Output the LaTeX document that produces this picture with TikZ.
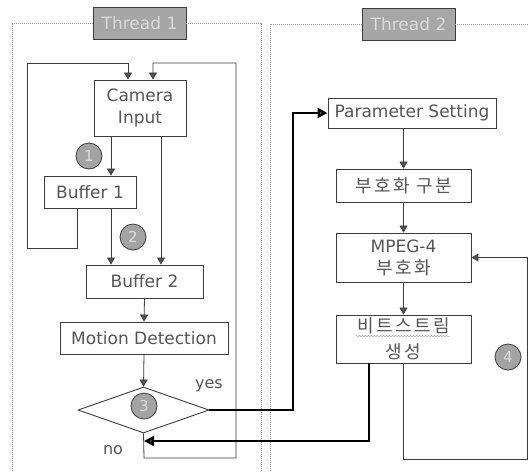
\documentclass[tikz,border=0pt]{standalone}
\usepackage{fontspec}
\setmainfont{DejaVu Sans}
\newfontfamily\krfont{Noto Sans CJK KR}[LetterSpace=14]
\usetikzlibrary{arrows.meta, shapes.geometric, decorations.pathmorphing}
\definecolor{boxborder}{HTML}{3C3C3C}
\definecolor{boxtext}{HTML}{555555}
\definecolor{framegray}{HTML}{9A9A9A}
\definecolor{titlefill}{HTML}{A6A6A6}
\definecolor{titletext}{HTML}{DADADA}
\definecolor{tipfill}{HTML}{555555}
\definecolor{markfill}{HTML}{A3A3A3}
\tikzset{
  card/.style={
    rectangle,
    draw=boxborder,
    fill=white,
    line width=0.9pt,
    align=center,
    inner sep=0pt,
    text=boxtext,
    font=\fontsize{17}{22}\selectfont
  },
  krcard/.style={card, font=\krfont\fontsize{18}{26}\selectfont},
  headbox/.style={rectangle, draw=boxborder, fill=titlefill, line width=0.9pt, inner sep=0pt,
    minimum width=93pt, minimum height=32pt, text=titletext, font=\fontsize{17}{20}\selectfont},
  decision/.style={diamond, draw=boxborder, fill=white, line width=0.9pt, inner sep=0pt,
    minimum width=131pt, minimum height=46pt},
  numdisc/.style={circle, draw=boxborder, fill=markfill, line width=0.8pt, inner sep=0pt,
    minimum size=26pt, text=titletext, font=\fontsize{15}{15}\selectfont},
  answer/.style={text=boxtext, font=\fontsize{16}{16}\selectfont},
  frameline/.style={draw=framegray, line width=0.7pt, dash pattern=on 1pt off 1pt},
  squiggle/.style={draw=gray!70, line width=0.5pt, decorate, decoration={snake, amplitude=0.8pt, segment length=3pt}},
  flow/.style={-{Triangle[length=7pt,width=8pt,fill=tipfill]}, line width=0.8pt, draw=boxborder},
  bigflow/.style={-{Triangle[length=10pt,width=10pt,fill=tipfill]}, line width=2.4pt, draw=black}
}

\begin{document}
\begin{tikzpicture}[x=1pt, y=-1pt]
\useasboundingbox (0,0) rectangle (529,472);

% Thread headers and frames.
\node[headbox] (title1) at (139.5,23) {Thread 1};
\node[headbox] (title2) at (408.5,24) {Thread 2};
\draw[frameline] (12,471) |- (title1.west);
\draw[frameline] (title1.east) -| (261,471);
\draw[frameline] (270,471) |- (title2.west);
\draw[frameline] (title2.east) -- (529,24);

% Thread 1.
\node[card, minimum width=92pt, minimum height=56pt] (cam) at (140,108) {Camera\\Input};
\node[card, minimum width=92pt, minimum height=32pt] (buf1) at (90,192) {Buffer 1};
\node[card, minimum width=117pt, minimum height=33pt] (buf2) at (144.5,281.5) {Buffer 2};
\node[card, minimum width=168pt, minimum height=32pt] (motion) at (144,338) {Motion Detection};
\node[decision] (decide) at (143.5,410) {};

\node[numdisc] (mark1) at (89,156) {1};
\node[numdisc] (mark2) at (133,237) {2};
\node[numdisc] (mark3) at (144,406) {3};
\node[answer] (yes) at (209,386) {yes};
\node[answer] (no) at (113,450) {no};

% Thread 2.
\node[card, minimum width=168pt, minimum height=30pt] (param) at (412,113) {Parameter Setting};
\node[krcard, minimum width=135pt, minimum height=33pt] (split) at (403.5,185.5) {부호화 구분};
\node[card, minimum width=135pt, minimum height=49pt] (mpeg) at (403.5,257.5) {MPEG-4\\{\krfont\fontsize{18}{18}\selectfont 부호화}};
\node[krcard, minimum width=135pt, minimum height=48pt] (bits) at (403.5,339) {비트스트림\\생성};
\node[numdisc] (mark4) at (508,357) {4};
\draw[squiggle] ([xshift=-48pt,yshift=3pt]bits.center) -- ([xshift=46pt,yshift=3pt]bits.center);

% Lanes.
\coordinate (laneA) at (111,0);
\coordinate (laneB) at (77,0);
\coordinate (laneC) at (128,0);
\coordinate (laneD) at (153,0);
\coordinate (laneE) at (161,0);
\coordinate (laneF) at (293,0);
\coordinate (laneG) at (369,0);
\coordinate (noend) at (144,441);

% Thread 1 flow.
\draw[flow] (cam.south -| laneA) -- (buf1.north -| laneA);
\draw[flow] (buf1.south -| laneA) -- (buf2.north -| laneA);
\draw[flow] (cam.south -| laneE) -- (buf2.north -| laneE);
\draw[flow] (buf2.south) -- (motion.north);
\draw[flow] (motion.south) -- (decide.north);
\draw[flow] (buf1.south -| laneB) |- (27,248) |- (128,63) -- (cam.north -| laneC);
\draw[flow] (decide.south) -- (144,458) -| (236,63) -| (cam.north -| laneD);

% Thread 2 flow.
\draw[flow] (param.south -| split.north) -- (split.north);
\draw[flow] (split.south) -- (mpeg.north);
\draw[flow] (mpeg.south) -- (bits.north);
\draw[flow] (bits.south) |- (527,459) |- (mpeg.east);

% Between threads.
\draw[bigflow] (decide.east) -| (laneF |- param.west) -- (param.west);
\draw[bigflow] (bits.south -| laneG) |- (noend);

\end{tikzpicture}
\end{document}
